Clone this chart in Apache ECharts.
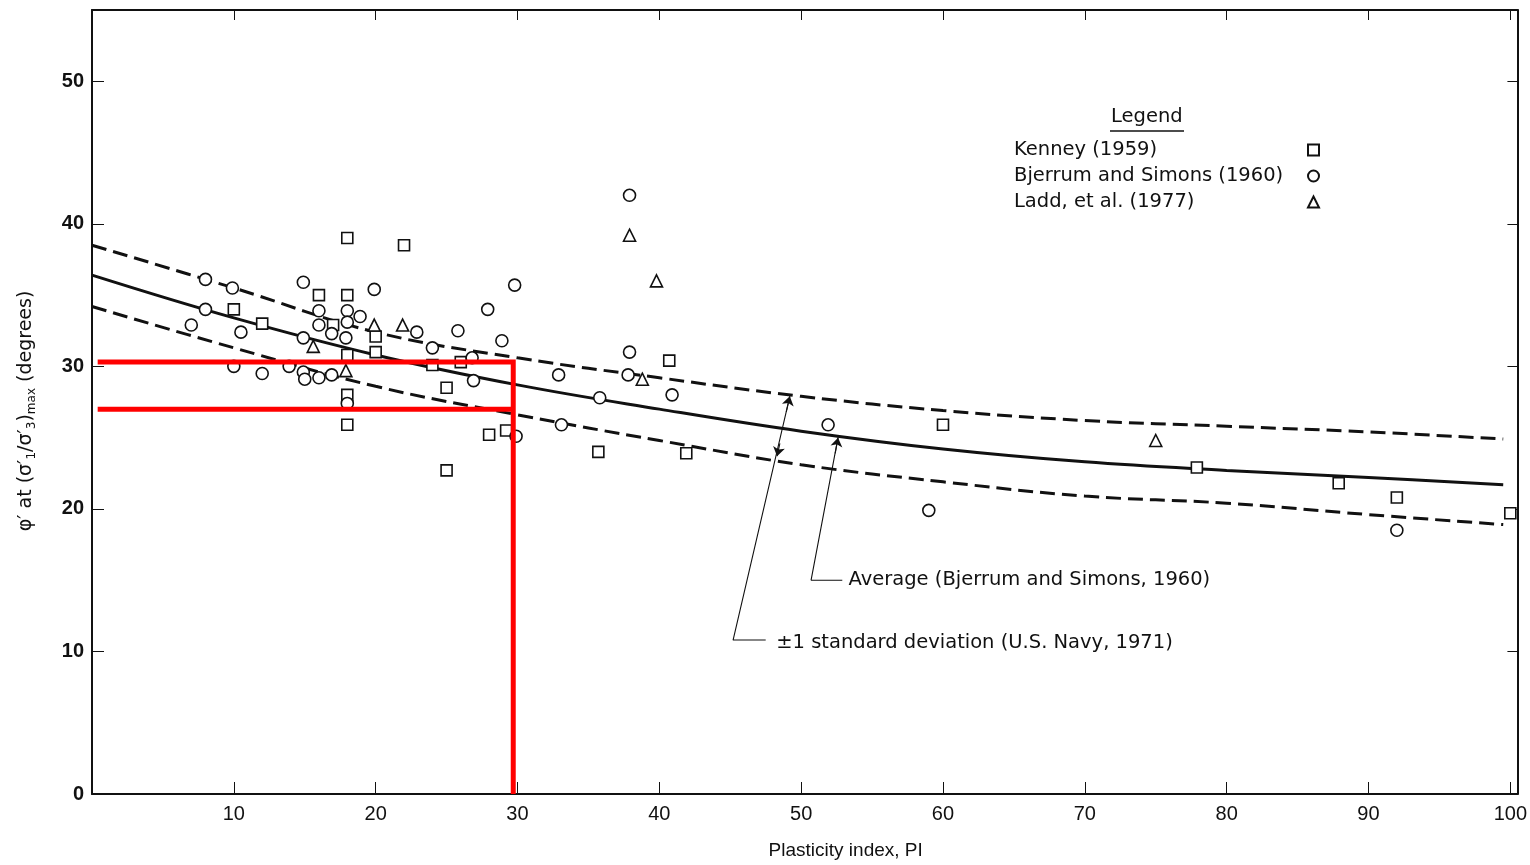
<!DOCTYPE html>
<html>
<head>
<meta charset="utf-8">
<script src="https://cdn.jsdelivr.net/npm/echarts@6/dist/echarts.min.js"></script>
<style>
  html, body { margin: 0; padding: 0; background: #fff; }
  #chart { width: 1530px; height: 865px; }
</style>
</head>
<body>
<div id="chart"></div>
<script>
// data: PI vs phi' (degrees)
var kenney = [
  [18, 39.0], [22, 38.5], [10, 34.0], [12, 33.0], [16, 35.0], [18, 35.0], [17, 32.9],
  [20, 32.1], [20, 31.0], [18, 30.8], [18, 28.0], [18, 25.9], [24, 30.1], [26, 30.3],
  [25, 28.5], [25, 22.7], [28, 25.2], [29.2, 25.5], [35.7, 24.0], [40.7, 30.4],
  [41.9, 23.9], [60, 25.9], [77.9, 22.9], [87.9, 21.8], [92, 20.8], [100, 19.7]
];
var bjerrum = [
  [8, 36.1], [9.9, 35.5], [14.9, 35.9], [19.9, 35.4], [8, 34.0], [7, 32.9], [10.5, 32.4],
  [16, 33.9], [16, 32.9], [16.9, 32.3], [18, 33.9], [18, 33.1], [17.9, 32.0], [18.9, 33.5],
  [14.9, 32.0], [22.9, 32.4], [24, 31.3], [10, 30.0], [12, 29.5], [13.9, 30.0], [14.9, 29.6],
  [15, 29.1], [16, 29.2], [16.9, 29.4], [18, 27.4], [37.9, 42.0], [29.8, 35.7], [27.9, 34.0],
  [25.8, 32.5], [28.9, 31.8], [26.8, 30.6], [26.9, 29.0], [32.9, 29.4], [37.9, 31.0],
  [37.8, 29.4], [35.8, 27.8], [40.9, 28.0], [33.1, 25.9], [29.9, 25.1], [51.9, 25.9],
  [59, 19.9], [92, 18.5]
];
var ladd = [
  [37.9, 39.2], [39.8, 36.0], [15.6, 31.4], [17.9, 29.7], [19.9, 32.9], [21.9, 32.9],
  [38.8, 29.1], [75, 24.8]
];

// curves
var curvePI = [0, 10, 20, 30, 40, 50, 60, 70, 80, 90, 99.5];
var avgPhi   = [36.4, 33.4, 30.8, 28.7, 27.0, 25.45, 24.2, 23.3, 22.7, 22.2, 21.7];
var upperPhi = [38.5, 35.5, 32.4, 30.6, 29.2, 27.9, 26.9, 26.2, 25.8, 25.4, 24.9];
var lowerPhi = [34.2, 31.3, 28.6, 26.6, 24.8, 23.1, 21.9, 20.9, 20.4, 19.6, 18.9];

// red overlay lines drawn on the scan
var redUpper = [[0.4, 30.3], [29.7, 30.3], [29.7, 0]];
var redLower = [[0.4, 27.0], [29.7, 27.0]];

// annotation leaders
var stdLeader = [[47.5, 10.8], [45.2, 10.8], [49.2, 27.9]];
var stdArrowUp = [[48.95, 26.8], [49.2, 27.9]];
var stdArrowDown = [[48.5, 24.6], [48.3, 23.7]];
var avgLeader = [[52.9, 15.0], [50.7, 15.0], [52.6, 25.0]];
var avgArrow = [[52.4, 23.9], [52.6, 25.0]];
var stdText = [48.1, 10.6];
var avgText = [53.2, 15.0];

var xTicks = { min: 0, max: 100.5, interval: 10 };
var yTicks = { min: 0, max: 55, interval: 10 };

function pairs(xs, ys) {
  return xs.map(function (x, i) { return [x, ys[i]]; });
}

var font = 'DejaVu Sans';
var ink = '#111';

var markerStyle = { color: '#fff', borderColor: ink, borderWidth: 1.6, opacity: 1 };

var chart = echarts.init(document.getElementById('chart'));
var option = {
  animation: false,
  backgroundColor: '#fff',
  grid: { left: 92, right: 10, top: 10, bottom: 68 },
  legend: {
    data: ['Kenney (1959)', 'Bjerrum and Simons (1960)', 'Ladd, et al. (1977)'],
    orient: 'vertical',
    align: 'right',
    left: 1009,
    top: 135,
    itemGap: 6,
    itemWidth: 11,
    itemHeight: 11,
    formatter: '{t|{name}}',
    textStyle: {
      color: ink,
      rich: { t: { width: 289, align: 'left', fontSize: 19.5, fontFamily: font, lineHeight: 19, color: ink } }
    }
  },
  graphic: [
    { type: 'text', left: 1111, top: 107, style: { text: 'Legend', font: '19.5px "DejaVu Sans"', fill: ink } },
    { type: 'line', shape: { x1: 1110, y1: 131, x2: 1184, y2: 131 }, style: { stroke: ink, lineWidth: 1.5 } }
  ],
  xAxis: [{
    type: 'value',
    min: xTicks.min, max: xTicks.max, interval: xTicks.interval,
    name: 'Plasticity index, PI',
    nameLocation: 'middle',
    nameGap: 47,
    nameTextStyle: { fontFamily: 'Liberation Sans', fontSize: 19, color: ink, padding: [0, 0, 0, 82] },
    axisLine: { show: true, onZero: false, lineStyle: { color: ink, width: 2 } },
    axisTick: { inside: true, length: 12, lineStyle: { color: ink, width: 1 } },
    axisLabel: {
      fontFamily: 'Liberation Sans', fontSize: 20, color: ink, margin: 10,
      formatter: function (v) { return v === 0 ? '' : v; }
    },
    splitLine: { show: false }
  }, {
    type: 'value', position: 'top',
    min: xTicks.min, max: xTicks.max, interval: xTicks.interval,
    axisLine: { show: true, onZero: false, lineStyle: { color: ink, width: 2 } },
    axisTick: { show: true, inside: true, length: 10, lineStyle: { color: ink, width: 1 } },
    axisLabel: { show: false },
    splitLine: { show: false }
  }],
  yAxis: [{
    type: 'value',
    min: yTicks.min, max: yTicks.max, interval: yTicks.interval,
    name: 'φ′ at (σ′{s|1}/σ′{s|3}){s|max} (degrees)',
    nameLocation: 'middle',
    nameGap: 54,
    nameTextStyle: {
      fontFamily: font, fontSize: 19, color: ink, lineHeight: 24, padding: [0, 18, 0, 0],
      rich: { s: { fontFamily: font, fontSize: 12, color: ink, lineHeight: 24, verticalAlign: 'bottom' } }
    },
    axisLine: { show: true, onZero: false, lineStyle: { color: ink, width: 2 } },
    axisTick: { show: true, inside: true, length: 12, lineStyle: { color: ink, width: 1 } },
    axisLabel: {
      fontFamily: 'Liberation Sans', fontSize: 20, fontWeight: 'bold', color: ink, margin: 8,
      formatter: function (v) { return v > 50 ? '' : v; }
    },
    splitLine: { show: false }
  }, {
    type: 'value', position: 'right',
    min: yTicks.min, max: yTicks.max, interval: yTicks.interval,
    axisLine: { show: true, onZero: false, lineStyle: { color: ink, width: 2 } },
    axisTick: { show: true, inside: true, length: 10, lineStyle: { color: ink, width: 1 } },
    axisLabel: { show: false },
    splitLine: { show: false }
  }],
  series: [
    {
      name: 'Average', type: 'line', smooth: 0.4, symbol: 'none',
      data: pairs(curvePI, avgPhi),
      lineStyle: { color: ink, width: 3 }
    },
    {
      name: 'Upper', type: 'line', smooth: 0.4, symbol: 'none',
      data: pairs(curvePI, upperPhi),
      lineStyle: { color: ink, width: 3, type: [15, 7] }
    },
    {
      name: 'Lower', type: 'line', smooth: 0.4, symbol: 'none',
      data: pairs(curvePI, lowerPhi),
      lineStyle: { color: ink, width: 3, type: [15, 7] }
    },
    {
      name: 'Kenney (1959)', type: 'scatter', symbol: 'rect', symbolSize: 11,
      data: kenney, itemStyle: markerStyle, z: 5
    },
    {
      name: 'Bjerrum and Simons (1960)', type: 'scatter', symbol: 'circle', symbolSize: 12,
      data: bjerrum, itemStyle: markerStyle, z: 5
    },
    {
      name: 'Ladd, et al. (1977)', type: 'scatter', symbol: 'triangle', symbolSize: 12,
      data: ladd, itemStyle: markerStyle, z: 5
    },
    {
      name: 'stdLeader', type: 'line', symbol: 'none', data: stdLeader,
      lineStyle: { color: ink, width: 1.1 },
      markLine: {
        silent: true, symbol: ['none', 'arrow'], symbolSize: 9,
        label: { show: false },
        lineStyle: { color: ink, width: 1.1, type: 'solid' },
        data: [
          [{ coord: stdArrowUp[0] }, { coord: stdArrowUp[1] }],
          [{ coord: stdArrowDown[0] }, { coord: stdArrowDown[1] }]
        ]
      },
      markPoint: {
        symbol: 'circle', symbolSize: 0,
        label: {
          show: true, position: 'right', distance: 2,
          fontFamily: font, fontSize: 19.5, color: ink,
          formatter: '±1 standard deviation (U.S. Navy, 1971)'
        },
        data: [{ coord: stdText }]
      }
    },
    {
      name: 'avgLeader', type: 'line', symbol: 'none', data: avgLeader,
      lineStyle: { color: ink, width: 1.1 },
      markLine: {
        silent: true, symbol: ['none', 'arrow'], symbolSize: 9,
        label: { show: false },
        lineStyle: { color: ink, width: 1.1, type: 'solid' },
        data: [[{ coord: avgArrow[0] }, { coord: avgArrow[1] }]]
      },
      markPoint: {
        symbol: 'circle', symbolSize: 0,
        label: {
          show: true, position: 'right', distance: 2,
          fontFamily: font, fontSize: 19.5, color: ink,
          formatter: 'Average (Bjerrum and Simons, 1960)'
        },
        data: [{ coord: avgText }]
      }
    },
    {
      name: 'redA', type: 'line', symbol: 'none', data: redUpper,
      lineStyle: { color: '#ff0000', width: 5, join: 'miter' }, z: 10
    },
    {
      name: 'redB', type: 'line', symbol: 'none', data: redLower,
      lineStyle: { color: '#ff0000', width: 5 }, z: 10
    }
  ]
};
chart.setOption(option);
</script>
</body>
</html>
